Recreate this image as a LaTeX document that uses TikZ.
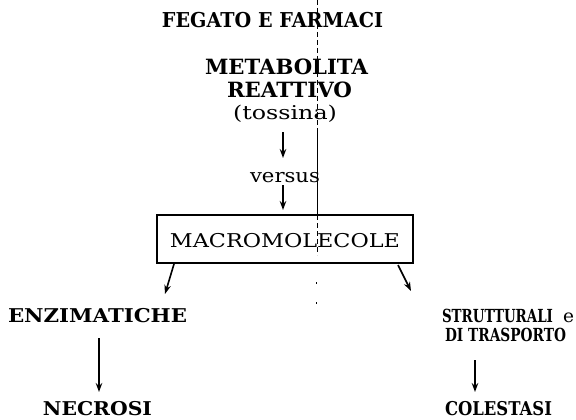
\documentclass[tikz,border=0pt]{standalone}
\usepackage{fontspec}
\setmainfont{DejaVu Serif}
\usetikzlibrary{arrows.meta}
\newcommand{\fitw}[2]{\resizebox{#1pt}{\height}{#2}}
\tikzset{
  lbl/.style={inner sep=0pt, anchor=base, font=\fontsize{19}{21}\selectfont\bfseries},
  sml/.style={inner sep=0pt, anchor=base, font=\fontsize{19}{21}\selectfont},
  arr/.style={line width=1.6pt, -{Stealth[length=9pt,width=6.5pt]}},
  boxst/.style={draw, line width=1.8pt, minimum width=256pt, minimum height=48pt, inner sep=0pt},
  fold/.style={line width=0.5pt, dash pattern=on 5pt off 3pt}
}
\begin{document}
\begin{tikzpicture}[x=1pt,y=-1pt]
\useasboundingbox (0,0) rectangle (576,420);
\fill[white] (0,0) rectangle (576,420);
% scan fold artifact
\draw[fold] (317,0) -- (317,130);
\draw[line width=0.5pt] (317,130) -- (317,215);
\draw[fold] (317,215) -- (317,255);
\draw[line width=0.5pt, dash pattern=on 2pt off 18pt] (316,262) -- (316,310);

\node[lbl, font=\fontsize{20.5}{22}\selectfont\bfseries] (title) at (272.5,28) {\fitw{221}{FEGATO E FARMACI}};
\node[lbl, font=\fontsize{21}{22}\selectfont\bfseries] (met) at (286.5,75) {\fitw{163}{METABOLITA}};
\node[lbl, font=\fontsize{21}{22}\selectfont\bfseries] (rea) at (289.5,97) {\fitw{125}{REATTIVO}};
\node[sml] (tos) at (285,119) {\fitw{104}{(tossina)}};
\node[sml] (vs) at (285,182) {\fitw{70}{versus}};
\node[boxst] (mac) at (285,239) {};
\node[sml] (mact) at (285,247) {\fitw{230}{MACROMOLECOLE}};
\node[lbl] (enz) at (97.5,322) {\fitw{179}{ENZIMATICHE}};
\node[lbl, font=\fontsize{18}{20}\selectfont\bfseries] (str) at (497.5,322) {\fitw{111}{STRUTTURALI}};
\node[sml, font=\fontsize{18}{20}\selectfont] (stre) at (568.5,322) {\fitw{11}{e}};
\node[lbl, font=\fontsize{18}{20}\selectfont\bfseries] (dit) at (505.5,341) {\fitw{121}{DI TRASPORTO}};
\node[lbl] (nec) at (97.5,415) {\fitw{109}{NECROSI}};
\node[lbl] (col) at (498.5,415) {\fitw{107}{COLESTASI}};

\coordinate (a1s) at (283,132);
\coordinate (a1e) at (283,158);
\draw[arr] (a1s) -- (a1e);
\coordinate (a2s) at (283,185);
\coordinate (a2e) at (283,210);
\draw[arr] (a2s) -- (a2e);
\coordinate (l1s) at (174,264);
\coordinate (l1e) at (165,294);
\draw[arr] (l1s) -- (l1e);
\coordinate (r1s) at (398,265);
\coordinate (r1e) at (411,291);
\draw[arr] (r1s) -- (r1e);
\coordinate (l2s) at (99,338);
\coordinate (l2e) at (99,392);
\draw[arr] (l2s) -- (l2e);
\coordinate (r2s) at (475,360);
\coordinate (r2e) at (475,392);
\draw[arr] (r2s) -- (r2e);
\end{tikzpicture}
\end{document}
